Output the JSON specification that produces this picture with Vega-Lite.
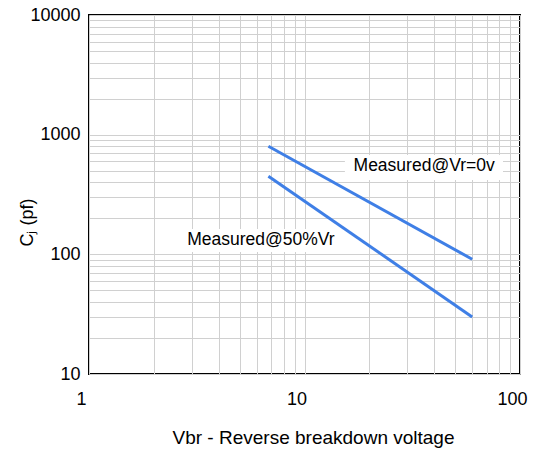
{
  "$schema": "https://vega.github.io/schema/vega-lite/v6.json",
  "width": 431,
  "height": 359,
  "autosize": {"type": "none"},
  "padding": {"left": 89, "top": 15, "right": 18, "bottom": 82},
  "background": "white",
  "config": {
    "font": "Liberation Sans",
    "view": {"stroke": "black", "strokeWidth": 2},
    "axis": {
      "domain": false,
      "ticks": false,
      "tickSize": 0,
      "grid": true,
      "gridColor": "#d0d0d0",
      "gridWidth": 1,
      "labelFontSize": 18,
      "labelColor": "black",
      "labelFont": "Liberation Sans",
      "labelOverlap": false,
      "labelFlush": false,
      "labelBound": false,
      "titleFontSize": 18,
      "titleFontWeight": "normal",
      "titleColor": "black",
      "titleFont": "Liberation Sans"
    }
  },
  "datasets": {
    "lines": [
      {"series": "Measured@Vr=0v", "vbr": 6.8, "cj": 800},
      {"series": "Measured@Vr=0v", "vbr": 60, "cj": 91},
      {"series": "Measured@50%Vr", "vbr": 6.8, "cj": 450},
      {"series": "Measured@50%Vr", "vbr": 60, "cj": 30}
    ],
    "labels": [
      {"text": "Measured@Vr=0v", "x": 35.9, "y": 547, "x1": 15.4, "x2": 83.4, "y1": 418, "y2": 676},
      {"text": "Measured@50%Vr", "x": 6.28, "y": 131.6, "x1": 2.73, "x2": 14.6, "y1": 104.5, "y2": 162.7}
    ]
  },
  "layer": [
    {
      "data": {"name": "labels"},
      "mark": {"type": "rect", "color": "white"},
      "encoding": {
        "x": {
          "field": "x1",
          "type": "quantitative",
          "scale": {"type": "log", "domain": [1, 100], "nice": false},
          "axis": {
            "title": "Vbr - Reverse breakdown voltage",
            "titleFontSize": 19,
            "values": [1, 2, 3, 4, 5, 6, 7, 8, 9, 10, 20, 30, 40, 50, 60, 70, 80, 90, 100],
            "labelExpr": "datum.value == 1 || datum.value == 10 || datum.value == 100 ? format(datum.value, 'd') : ''",
            "labelPadding": 16,
            "labelOffset": -8,
            "titleX": 224,
            "titleY": 63,
            "titleAlign": "center",
            "titleBaseline": "middle"
          }
        },
        "x2": {"field": "x2"},
        "y": {
          "field": "y1",
          "type": "quantitative",
          "scale": {"type": "log", "domain": [10, 10000], "nice": false},
          "axis": {
            "title": "Cⱼ (pf)",
            "values": [10, 20, 30, 40, 50, 60, 70, 80, 90, 100, 200, 300, 400, 500, 600, 700, 800, 900, 1000, 2000, 3000, 4000, 5000, 6000, 7000, 8000, 9000, 10000],
            "labelExpr": "datum.value == 10 || datum.value == 100 || datum.value == 1000 || datum.value == 10000 ? format(datum.value, 'd') : ''",
            "labelPadding": 9,
            "titleX": -62,
            "titleY": 207,
            "titleAlign": "center",
            "titleBaseline": "middle"
          }
        },
        "y2": {"field": "y2"}
      }
    },
    {
      "data": {"name": "lines"},
      "mark": {"type": "line", "color": "#3f7fe6", "strokeWidth": 3},
      "encoding": {
        "x": {"field": "vbr", "type": "quantitative"},
        "y": {"field": "cj", "type": "quantitative"},
        "detail": {"field": "series"}
      }
    },
    {
      "data": {"name": "labels"},
      "mark": {"type": "text", "fontSize": 17.5, "color": "black", "font": "Liberation Sans"},
      "encoding": {
        "x": {"field": "x", "type": "quantitative"},
        "y": {"field": "y", "type": "quantitative"},
        "text": {"field": "text"}
      }
    }
  ]
}
